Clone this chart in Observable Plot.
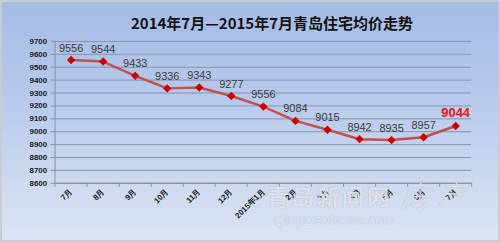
<!DOCTYPE html>
<html>
<head>
<meta charset="utf-8">
<script src="https://cdn.jsdelivr.net/npm/d3@7"></script>
<script src="https://cdn.jsdelivr.net/npm/@observablehq/plot@0.6"></script>
<style>
  html, body { margin: 0; padding: 0; }
  #wrap {
    position: relative; width: 500px; height: 242px; box-sizing: border-box;
    border: 2px solid #c9ccd2;
    background: linear-gradient(#a4bbe6 0%, #b7caec 40%, #dbe4f3 100%);
    overflow: hidden;
  }
  #title {
    position: absolute; left: 0; top: 0; width: 500px; height: 34px; box-sizing: border-box;
    padding-left: 40px; text-align: center; line-height: 42px;
    font-family: "Noto Sans CJK SC", sans-serif; font-weight: bold; font-size: 15px; color: #111;
  }
  #chart { position: absolute; left: -2px; top: 32px; }
  .wm { position: absolute; font-family: "Noto Sans CJK SC", sans-serif; white-space: nowrap;
        color: rgba(255,255,255,0.68); text-shadow: 0 0 1px rgba(130,140,165,0.7); }
</style>
</head>
<body>
<div id="wrap">
  <div id="title">2014年7月—2015年7月青岛住宅均价走势</div>
  <div id="chart"></div>
  <div class="wm" style="left:265px;top:178px;font-size:22px;font-weight:bold;letter-spacing:3px;line-height:30px">青岛新闻网</div>
  <div class="wm" style="left:398px;top:174px;font-size:30px;font-weight:300;letter-spacing:6px;line-height:36px;font-style:italic">房产</div>
  <div class="wm" style="left:272px;top:209px;font-size:14px;line-height:18px;font-style:italic;font-family:'Liberation Sans',sans-serif">QingDaoNews.com</div>
</div>
<script>
const months = ["7月","8月","9月","10月","11月","12月","2015年1月","2月","3月","4月","5月","6月","7月"];
const prices = [9556, 9544, 9433, 9336, 9343, 9277, 9195, 9084, 9015, 8942, 8935, 8957, 9044];
const priceLabels = ["9556","9544","9433","9336","9343","9277","9556","9084","9015","8942","8935","8957","9044"];
const yTicks = [8600, 8700, 8800, 8900, 9000, 9100, 9200, 9300, 9400, 9500, 9600, 9700];

const data = months.map((m, i) => ({i: i + 0.5, month: m, price: prices[i], label: priceLabels[i]}));
const last = data.length - 1;
const font = "Liberation Sans, Arial, sans-serif";

const chart = Plot.plot({
  width: 502,
  height: 208,
  marginLeft: 55,
  marginRight: 27,
  marginTop: 7,
  marginBottom: 58,
  style: {fontFamily: font, background: "transparent", overflow: "visible"},
  x: {type: "linear", domain: [0, months.length], axis: null},
  y: {domain: [8600, 9700], axis: null},
  marks: [
    Plot.gridY(yTicks, {stroke: "#8694ab", strokeOpacity: 1, strokeWidth: 1}),
    Plot.axisY(yTicks, {tickSize: 4, tickPadding: 4, stroke: "#8a8f99", fill: "#1a1a1a", fontSize: 8, fontWeight: "bold", label: null, tickFormat: d => String(d)}),
    Plot.ruleX([0], {stroke: "#8a8f99"}),
    Plot.ruleY([8600], {stroke: "#8a8f99"}),
    Plot.axisX(d3.range(months.length + 1), {tickSize: 4, stroke: "#8a8f99", tickFormat: () => "", label: null}),
    Plot.axisX(data.map(d => d.i), {tickSize: 0, tickPadding: 7, tickRotate: -45, fontSize: 8, fontWeight: "bold", fill: "#1a1a1a", label: null, tickFormat: d => months[Math.floor(d)]}),
    Plot.line(data, {x: "i", y: "price", stroke: "#c4504e", strokeWidth: 2.5}),
    Plot.dot(data, {x: "i", y: "price", symbol: "diamond2", r: 3.8, fill: "#cc0000", stroke: "none"}),
    Plot.text(data.slice(0, last), {x: "i", y: "price", text: "label", dy: -12, fill: "#3a3a3a", fontSize: 11}),
    Plot.text(data.slice(last), {x: "i", y: "price", text: "label", dy: -13, fill: "#ee1111", fontSize: 13, fontWeight: "bold"})
  ]
});
document.getElementById("chart").appendChild(chart);
</script>
</body>
</html>
